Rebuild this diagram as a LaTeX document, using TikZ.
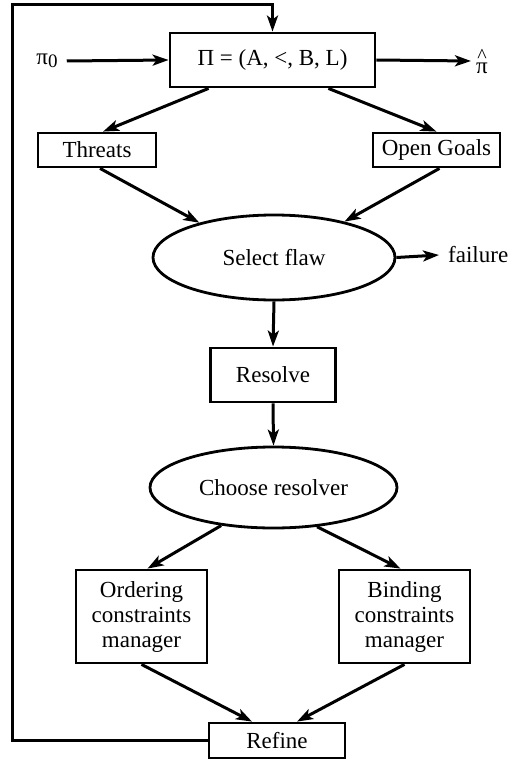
\documentclass[tikz,border=0pt]{standalone}
\usepackage{fontspec}
\setmainfont{Liberation Serif}
\usetikzlibrary{arrows.meta,shapes.geometric,calc}

\tikzset{
  lbl/.style={font=\fontsize{23}{25}\selectfont, inner sep=0pt},
  box/.style={lbl, draw, line width=2.8pt, rectangle, align=center},
  oval/.style={lbl, draw, line width=2.8pt, ellipse},
  flow/.style={line width=3pt, -{Stealth[length=16pt,width=11pt,inset=4pt]}},
}

\begin{document}
\begin{tikzpicture}[x=1pt, y=-1pt]
  \useasboundingbox (0,0) rectangle (513,760);

  % plan and its flaw sets
  \node[box, minimum width=205pt, minimum height=54pt] (plan) at (272.5,60) {Π = (A, <, B, L)};
  \node[lbl] (start) at (47,61) {π\raisebox{-3pt}{\fontsize{19}{20}\selectfont 0}};
  \node[lbl, anchor=west] (sol) at (476,61)
    {$\mathop{\hbox{π}}\limits^{\raisebox{-9pt}{\fontsize{20}{20}\selectfont\textasciicircum}}$};
  \node[box, minimum width=118pt, minimum height=34pt] (threats) at (97,150) {Threats};
  \node[box, minimum width=127pt, minimum height=34pt] (goals) at (436.5,150) {Open Goals};

  % flaw selection and resolution
  \node[oval, minimum width=242pt, minimum height=85pt] (select) at (274,257.5) {Select flaw};
  \node[lbl, anchor=west] (fail) at (448,255) {failure};
  \node[box, minimum width=125pt, minimum height=54pt] (resolve) at (273,375) {Resolve};
  \node[oval, minimum width=247pt, minimum height=81pt] (choose) at (273.5,487.5) {Choose resolver};

  % constraint managers and refinement
  \node[box, minimum width=131pt, minimum height=93pt] (order) at (141.5,616.5)
    {Ordering\\constraints\\manager};
  \node[box, minimum width=131pt, minimum height=93pt] (bind) at (404.5,616.5)
    {Binding\\constraints\\manager};
  \node[box, minimum width=136pt, minimum height=35pt] (refine) at (277,740.5) {Refine};

  % connectors
  \draw[flow] ([xshift=9pt]start.east) -- (plan.west);
  \draw[flow] (plan.east) -- ([xshift=-5pt]sol.west);
  \draw[flow] ([xshift=40pt]plan.south west) -- ([xshift=6pt]threats.north);
  \draw[flow] ([xshift=-48pt]plan.south east) -- (goals.north);
  \draw[flow] ([xshift=3pt]threats.south) -- (select.155);
  \draw[flow] ([xshift=3pt]goals.south) -- (select.27);
  \draw[flow] (select.east) -- ([xshift=-9pt]fail.west);
  \draw[flow] (select.south) -- (resolve.north);
  \draw[flow] (resolve.south) -- (choose.north);
  \draw[flow] (choose.216) -- ([xshift=6pt]order.north);
  \draw[flow] (choose.318) -- ([xshift=-4pt]bind.north);
  \draw[flow] (order.south) -- ([xshift=-25pt]refine.north);
  \draw[flow] (bind.south) -- ([xshift=20pt]refine.north);

  % feedback loop from refinement back to the plan
  \coordinate (corner) at (12,5);
  \draw[flow] (refine.west) -- (refine.west -| corner) -- (corner)
    -- (corner -| plan.north) -- (plan.north);
\end{tikzpicture}
\end{document}
